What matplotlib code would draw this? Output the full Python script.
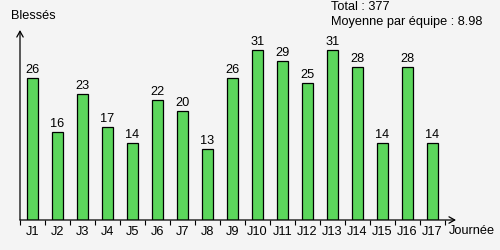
import matplotlib
matplotlib.use('Agg')
import matplotlib.pyplot as plt

plt.rcParams['font.family'] = ['Liberation Sans', 'DejaVu Sans']
plt.rcParams['font.size'] = 9.2

journees = ['J%d' % i for i in range(1, 18)]
blesses = [26, 16, 23, 17, 14, 22, 20, 13, 26, 31, 29, 25, 31, 28, 14, 28, 14]
total = 377
moyenne = 8.98

BG = '#f4f4f4'
GREEN = '#5cd65c'

fig = plt.figure(figsize=(5, 2.5), dpi=100, facecolor=BG)
ax = fig.add_axes([0.04, 0.12, 0.872, 0.76])
ax.set_facecolor(BG)

x = [i + 0.5 for i in range(len(blesses))]
bars = ax.bar(x, blesses, width=0.47, color=GREEN, edgecolor='black', linewidth=0.9)
ax.bar_label(bars, padding=1.5, fontsize=9.2)

ax.set_xlim(0, 17.44)
ax.set_ylim(0, 34.73)

for s in ax.spines.values():
    s.set_visible(False)

# axes with open arrow heads
ax.annotate('', xy=(0, 1), xytext=(0, 0), xycoords='axes fraction',
            arrowprops=dict(arrowstyle='->, head_length=0.45, head_width=0.25',
                            lw=0.9, color='black', shrinkA=0, shrinkB=0))
ax.annotate('', xy=(1, 0), xytext=(0, 0), xycoords='axes fraction',
            arrowprops=dict(arrowstyle='->, head_length=0.45, head_width=0.25',
                            lw=0.9, color='black', shrinkA=0, shrinkB=0))

ax.set_xticks(range(len(blesses) + 1))
ax.set_xticklabels([])
ax.set_xticks(x, minor=True)
ax.set_xticklabels(journees, minor=True)
ax.tick_params(axis='x', which='major', direction='out', length=3.6, width=0.8)
ax.tick_params(axis='x', which='minor', length=0, pad=4.2)
ax.set_yticks([])

fig.text(0.022, 0.937, 'Blessés', va='center', ha='left')
fig.text(0.898, 0.077, 'Journée', va='center', ha='left')
fig.text(0.662, 0.97, 'Total : %d' % total, va='center', ha='left')
fig.text(0.662, 0.913, 'Moyenne par équipe : %.2f' % moyenne, va='center', ha='left')

fig.savefig('out.png', dpi=100, facecolor=BG)
